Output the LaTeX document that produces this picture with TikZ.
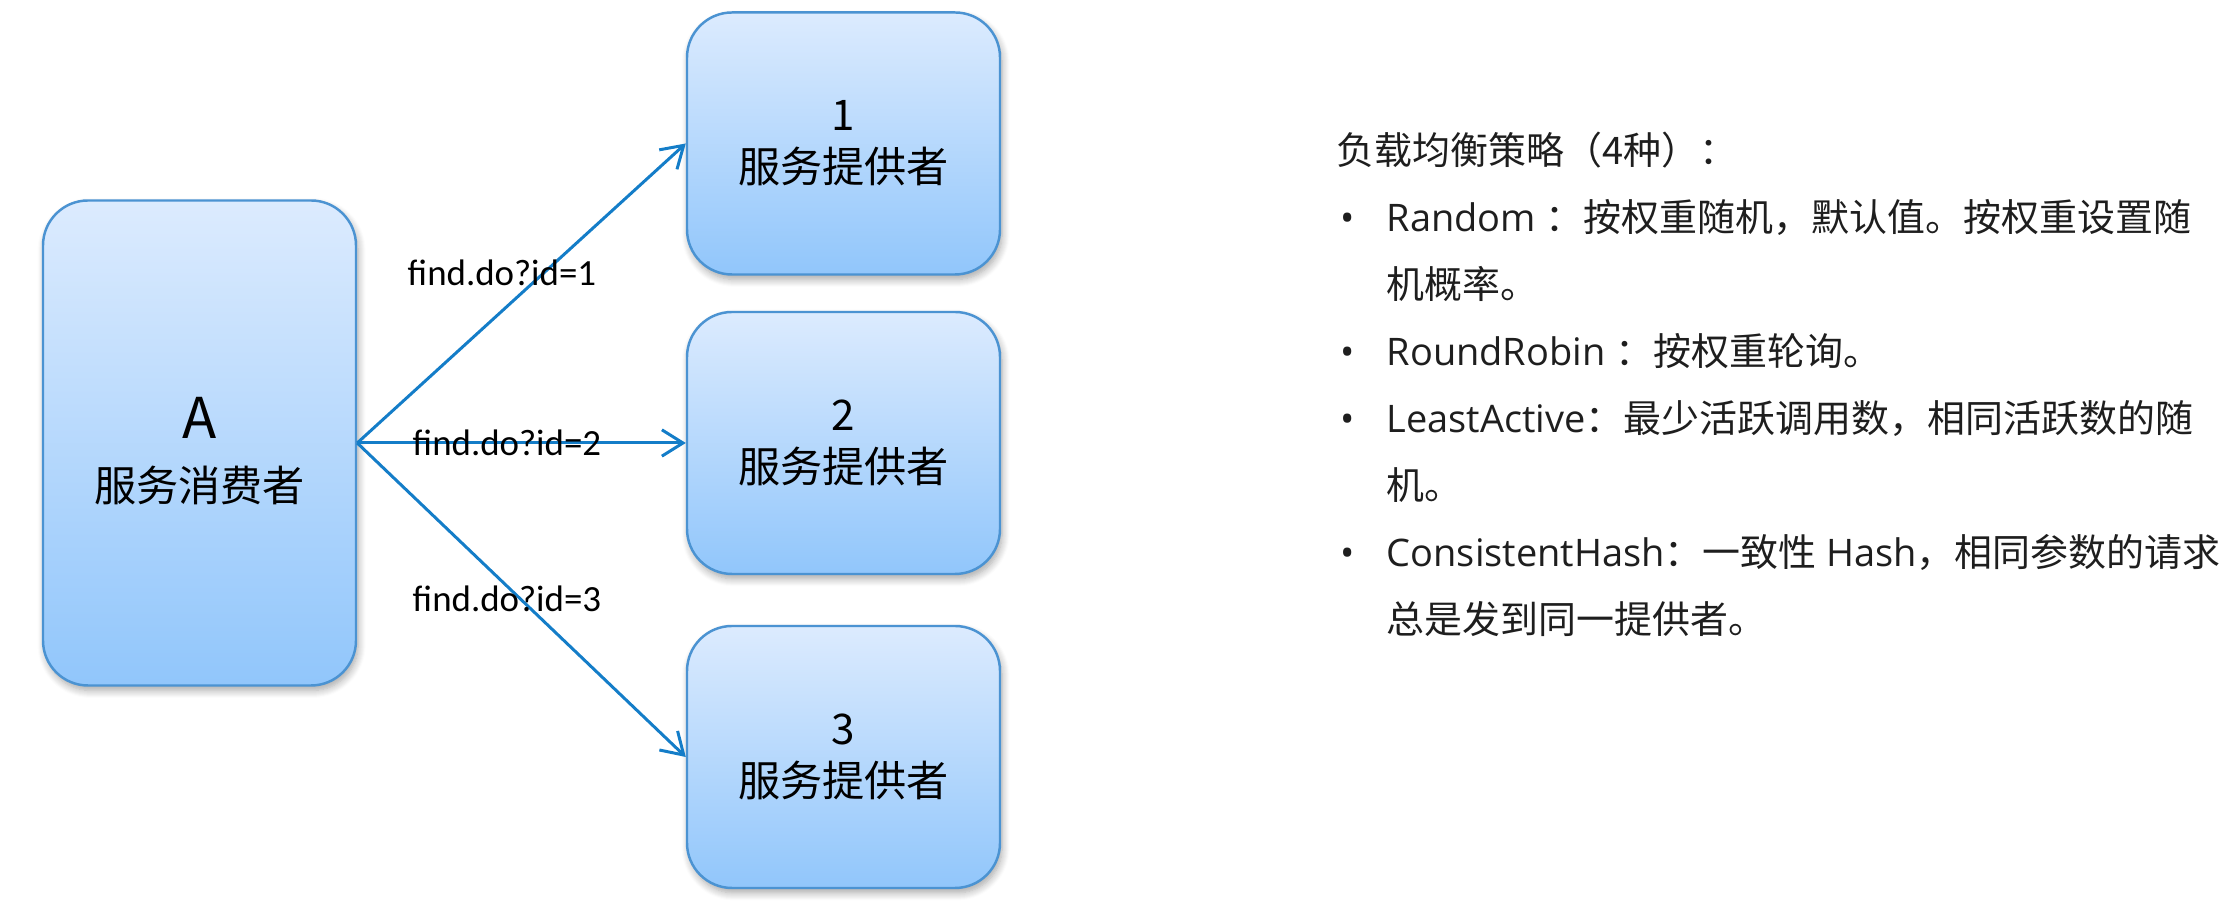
\documentclass[tikz,border=0pt]{standalone}
\usepackage{fontspec}
\setmainfont{Open Sans}
\newfontfamily\zhfont{Noto Sans CJK SC}
\newfontfamily\calfont{Carlito}
\usetikzlibrary{arrows.meta,shadows.blur}
\definecolor{boxtop}{RGB}{220,235,254}
\definecolor{boxbot}{RGB}{145,198,251}
\definecolor{boxline}{RGB}{75,147,210}
\definecolor{callblue}{RGB}{20,125,200}
\definecolor{txtgray}{RGB}{30,30,30}
\newcommand\zh[1]{{\zhfont #1}}

\begin{document}
\begin{tikzpicture}[
  svcbox/.style={draw=boxline, line width=0.7pt, rounded corners=0.45cm,
    top color=boxtop, bottom color=boxbot, minimum width=3.13cm, align=center,
    font=\zhfont\fontsize{12}{14.8}\selectfont,
    blur shadow={shadow xshift=0.6pt, shadow yshift=-1.4pt, shadow blur steps=8, shadow opacity=35}},
  call/.style={draw=callblue, line width=0.85pt, -{Straight Barb[length=6pt,width=7.5pt]}},
  reqlabel/.style={font=\calfont\fontsize{10.5}{12}\selectfont},
  strategy/.style={anchor=base west, text=txtgray, inner sep=0pt, font=\fontsize{10.8}{13}\selectfont}
]
\useasboundingbox (0,0) rectangle (22.2,9.1);
\node[svcbox, minimum height=4.85cm, text height=1.2cm] (A) at (1.995,4.67) {{\fontsize{16}{18}\selectfont A}\\[3pt]服务消费者};
\node[svcbox, minimum height=2.62cm] (P1) at (8.435,7.665) {1\\服务提供者};
\node[svcbox, minimum height=2.62cm] (P2) at (8.435,4.67) {2\\服务提供者};
\node[svcbox, minimum height=2.62cm] (P3) at (8.435,1.53) {3\\服务提供者};
\draw[call] (A.east) -- (P1.west);
\draw[call] (A.east) -- (P2.west);
\draw[call] (A.east) -- (P3.west);
\node[reqlabel] (l1) at (5.02,6.37) {find.do?id=1};
\node[reqlabel] (l2) at (5.07,4.67) {find.do?id=2};
\node[reqlabel] (l3) at (5.07,3.11) {find.do?id=3};
\node[strategy] (title) at (13.36,7.45) {\zh{负载均衡策略（4种）：}};
\node[strategy] (d1) at (13.40,6.78) {•};
\node[strategy] (s1) at (13.86,6.78) {Random \zh{：按权重随机，默认值。按权重设置随}};
\node[strategy] (s1b) at (13.86,6.11) {\zh{机概率。}};
\node[strategy] (d2) at (13.40,5.44) {•};
\node[strategy] (s2) at (13.86,5.44) {RoundRobin \zh{：按权重轮询。}};
\node[strategy] (d3) at (13.40,4.77) {•};
\node[strategy] (s3) at (13.86,4.77) {LeastActive\zh{：最少活跃调用数，相同活跃数的随}};
\node[strategy] (s3b) at (13.86,4.10) {\zh{机。}};
\node[strategy] (d4) at (13.40,3.43) {•};
\node[strategy] (s4) at (13.86,3.43) {ConsistentHash\zh{：一致性} Hash\zh{，相同参数的请求}};
\node[strategy] (s4b) at (13.86,2.76) {\zh{总是发到同一提供者。}};
\end{tikzpicture}
\end{document}
